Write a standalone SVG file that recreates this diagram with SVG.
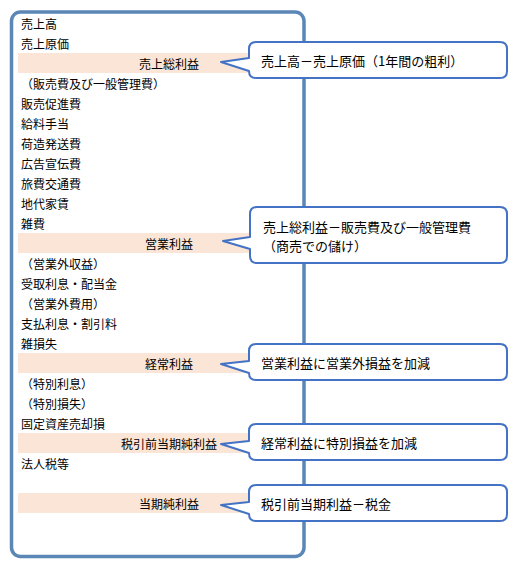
<svg xmlns="http://www.w3.org/2000/svg" width="520" height="572" viewBox="0 0 520 572">
<style>
.t{font-family:"Noto Sans CJK JP","Noto Sans CJK SC",sans-serif;font-size:12px;fill:#000;dominant-baseline:central}
.m{text-anchor:middle}
.c{font-family:"Noto Sans CJK JP","Noto Sans CJK SC",sans-serif;font-size:13px;fill:#000;dominant-baseline:central}
.band{fill:#fbe5d6}
.call{fill:#fff;stroke:#4472c4;stroke-width:2;stroke-linejoin:round}
</style>
<rect width="520" height="572" fill="#fff"/>
<g id="frame"><rect x="11.5" y="12" width="292.5" height="544.5" rx="9" fill="#fff" stroke="#5b87b6" stroke-width="3.5"/></g>
<g id="rows">
<g id="r0"><text class="t" x="21" y="23">売上高</text></g>
<g id="r1"><text class="t" x="21" y="43">売上原価</text></g>
<g id="r2"><rect class="band" x="18" y="53" width="284" height="20"/><text class="t m" x="169" y="63">売上総利益</text></g>
<g id="r3"><text class="t" x="21" y="83">（販売費及び一般管理費）</text></g>
<g id="r4"><text class="t" x="21" y="103">販売促進費</text></g>
<g id="r5"><text class="t" x="21" y="123">給料手当</text></g>
<g id="r6"><text class="t" x="21" y="143">荷造発送費</text></g>
<g id="r7"><text class="t" x="21" y="163">広告宣伝費</text></g>
<g id="r8"><text class="t" x="21" y="183">旅費交通費</text></g>
<g id="r9"><text class="t" x="21" y="203">地代家賃</text></g>
<g id="r10"><text class="t" x="21" y="223">雑費</text></g>
<g id="r11"><rect class="band" x="18" y="233" width="284" height="20"/><text class="t m" x="169" y="243">営業利益</text></g>
<g id="r12"><text class="t" x="21" y="263">（営業外収益）</text></g>
<g id="r13"><text class="t" x="21" y="283">受取利息・配当金</text></g>
<g id="r14"><text class="t" x="21" y="303">（営業外費用）</text></g>
<g id="r15"><text class="t" x="21" y="323">支払利息・割引料</text></g>
<g id="r16"><text class="t" x="21" y="343">雑損失</text></g>
<g id="r17"><rect class="band" x="18" y="353" width="284" height="20"/><text class="t m" x="169" y="363">経常利益</text></g>
<g id="r18"><text class="t" x="21" y="383">（特別利息）</text></g>
<g id="r19"><text class="t" x="21" y="403">（特別損失）</text></g>
<g id="r20"><text class="t" x="21" y="423">固定資産売却損</text></g>
<g id="r21"><rect class="band" x="18" y="433" width="284" height="20"/><text class="t m" x="169" y="443">税引前当期純利益</text></g>
<g id="r22"><text class="t" x="21" y="463">法人税等</text></g>
<g id="r24"><rect class="band" x="18" y="493" width="284" height="20"/><text class="t m" x="169" y="503">当期純利益</text></g>
</g>
<g id="callouts">
<g id="c1"><path class="call" d="M256,42 H500 Q507,42 507,49 V71 Q507,78 500,78 H256 Q249,78 249,71 V71 L221,62 L249,58 V49 Q249,42 256,42 Z"/><text class="c" x="261" y="60">売上高－売上原価（1年間の粗利）</text></g>
<g id="c2"><path class="call" d="M257,207 H500 Q507,207 507,214 V256 Q507,263 500,263 H257 Q250,263 250,256 V249 L223,241 L250,237 V214 Q250,207 257,207 Z"/><text class="c" x="263" y="226">売上総利益－販売費及び一般管理費</text><text class="c" x="263" y="245">（商売での儲け）</text></g>
<g id="c3"><path class="call" d="M256,344 H500 Q507,344 507,351 V373 Q507,380 500,380 H256 Q249,380 249,373 V373 L221,364 L249,361 V351 Q249,344 256,344 Z"/><text class="c" x="261" y="362">営業利益に営業外損益を加減</text></g>
<g id="c4"><path class="call" d="M256,424 H500 Q507,424 507,431 V453 Q507,460 500,460 H256 Q249,460 249,453 V453 L221,444 L249,441 V431 Q249,424 256,424 Z"/><text class="c" x="261" y="442">経常利益に特別損益を加減</text></g>
<g id="c5"><path class="call" d="M256,485 H500 Q507,485 507,492 V514 Q507,521 500,521 H256 Q249,521 249,514 V514 L221,505 L249,502 V492 Q249,485 256,485 Z"/><text class="c" x="261" y="503">税引前当期利益－税金</text></g>
</g>
</svg>
